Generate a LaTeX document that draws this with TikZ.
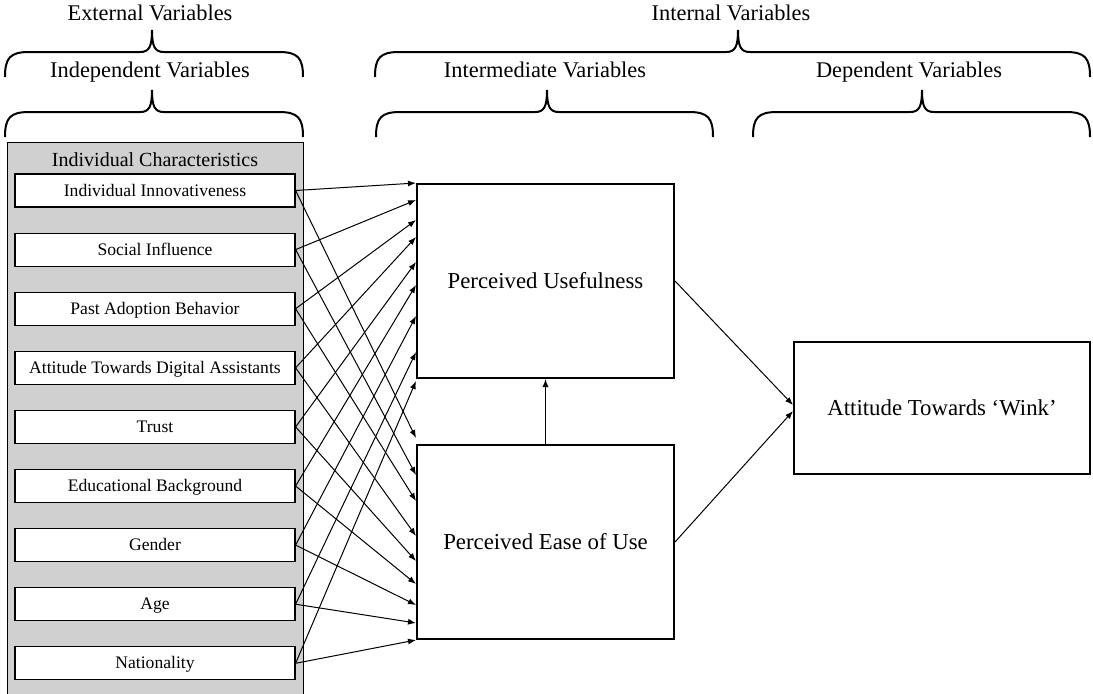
\documentclass[tikz,border=0pt]{standalone}
\usepackage{fontspec}
\setmainfont{Liberation Serif}
\usetikzlibrary{positioning,calc,arrows.meta}
\definecolor{panelgray}{RGB}{208,208,208}
\tikzset{>={Latex[length=4pt,width=3pt]},
hdr/.style={font=\fontsize{11.2}{13}\selectfont,text height=1.6ex,text depth=0.4ex},
brc/.style={line width=1pt},
panel/.style={draw,line width=0.5pt,fill=panelgray},
ch/.style={rectangle,draw,fill=white,line width=0.6pt,minimum width=140pt,minimum height=16.5pt,inner sep=0pt,text height=1.6ex,text depth=0.4ex,font=\fontsize{8.8}{10}\selectfont},
cs/.style={rectangle,draw,line width=1pt,minimum width=128.5pt,minimum height=97pt,font=\fontsize{11.4}{13}\selectfont},
lnk/.style={->,line width=0.5pt},
}
% left x, tip x, right x, tip y
\newcommand{\varbrace}[4]{%
  \draw[brc] (#1,#4+47) .. controls (#1,#4+28) and (#1+5,#4+22) .. (#1+24,#4+22)
    -- (#2-12,#4+22) .. controls (#2-3,#4+22) and (#2,#4+17) .. (#2,#4)
    .. controls (#2,#4+17) and (#2+3,#4+22) .. (#2+12,#4+22)
    -- (#3-24,#4+22) .. controls (#3-5,#4+22) and (#3,#4+28) .. (#3,#4+47);}

\begin{document}
\begin{tikzpicture}[x=0.5pt,y=-0.5pt]
	\useasboundingbox (0,0) rectangle (1093,693);

	% headings
	\node[hdr] (ext) at (150,15) {External Variables};
	\node[hdr] (indep) at (150,72) {Independent Variables};
	\node[hdr] (intl) at (731,15) {Internal Variables};
	\node[hdr] (inter) at (545,72) {Intermediate Variables};
	\node[hdr] (dep) at (909,72) {Dependent Variables};
	\varbrace{5}{152}{303}{30}
	\varbrace{5}{152}{303}{90}
	\varbrace{375}{738}{1090}{30}
	\varbrace{376}{547}{713}{90}
	\varbrace{753}{922}{1090}{90}

	% individual characteristics
	\draw[panel] (7,142) rectangle (303,700);
	\node[font=\fontsize{10}{12}\selectfont] (ictitle) at (155,160) {Individual Characteristics};
	\node[ch] (c1) at (155,190.5) {Individual Innovativeness};
	\node[ch,below=12.45pt of c1] (c2) {Social Influence};
	\node[ch,below=12.45pt of c2] (c3) {Past Adoption Behavior};
	\node[ch,below=12.45pt of c3] (c4) {Attitude Towards Digital Assistants};
	\node[ch,below=12.45pt of c4] (c5) {Trust};
	\node[ch,below=12.45pt of c5] (c6) {Educational Background};
	\node[ch,below=12.45pt of c6] (c7) {Gender};
	\node[ch,below=12.45pt of c7] (c8) {Age};
	\node[ch,below=12.45pt of c8] (c9) {Nationality};

	% constructs
	\node[cs] (pu) at (545.5,281) {Perceived Usefulness};
	\node[cs,below=32.5pt of pu] (peou) {Perceived Ease of Use};
	\node[cs,minimum width=148pt,minimum height=66pt] (att) at (942,408) {Attitude Towards ‘Wink’};

	\path[lnk]
	(c1.east) edge (pu.north west)
	(c2.east) edge ([yshift=-8.5pt]pu.north west)
	(c3.east) edge ([yshift=-18.5pt]pu.north west)
	(c4.east) edge ([yshift=-27pt]pu.north west)
	(c5.east) edge ([yshift=-39.5pt]pu.north west)
	(c6.east) edge ([yshift=-51pt]pu.north west)
	(c7.east) edge ([yshift=-66.5pt]pu.north west)
	(c8.east) edge ([yshift=-84.5pt]pu.north west)
	(c9.east) edge ([yshift=-99pt]pu.north west)
	(c1.east) edge ([yshift=3pt]peou.north west)
	(c2.east) edge ([yshift=-15.5pt]peou.north west)
	(c3.east) edge ([yshift=-28.5pt]peou.north west)
	(c4.east) edge ([yshift=-46pt]peou.north west)
	(c5.east) edge ([yshift=-58.5pt]peou.north west)
	(c6.east) edge ([yshift=-70pt]peou.north west)
	(c7.east) edge ([yshift=-80.5pt]peou.north west)
	(c8.east) edge ([yshift=-89.5pt]peou.north west)
	(c9.east) edge (peou.south west)
	(peou) edge (pu)
	(pu.east) edge ([yshift=1.5pt]att.west)
	(peou.east) edge ([yshift=-1.5pt]att.west)
	;
\end{tikzpicture}
\end{document}
